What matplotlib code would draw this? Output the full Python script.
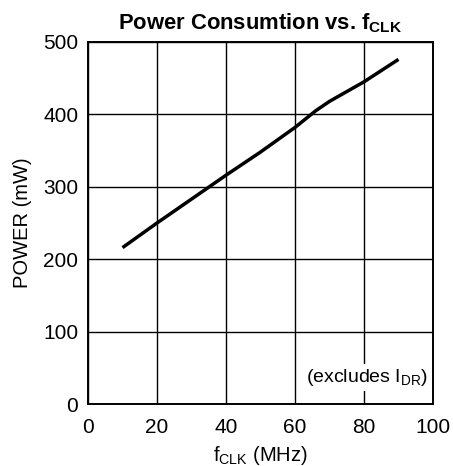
import matplotlib
matplotlib.use('Agg')
import matplotlib.pyplot as plt
from matplotlib import rcParams

rcParams['font.family'] = 'Liberation Sans'
rcParams['mathtext.fontset'] = 'custom'
rcParams['mathtext.rm'] = 'Liberation Sans'
rcParams['mathtext.bf'] = 'Liberation Sans:bold'

fclk = [10, 20, 30, 40, 50, 60, 66, 70, 80, 90]
power = [216, 250, 283, 316, 348, 382, 405, 418, 445, 476]

fig = plt.figure(figsize=[4.53, 4.66], dpi=100)
ax = fig.add_axes([88/453, 1 - 404/466, (433-88)/453, (404-42)/466])

ax.plot(fclk, power, color='black', lw=2.5, solid_capstyle='butt', zorder=3)
ax.set(xlim=[0, 100], ylim=[0, 500])
ax.set_xticks([0, 20, 40, 60, 80, 100])
ax.set_yticks([0, 100, 200, 300, 400, 500])
ax.grid(True, color='black', lw=1.0)
ax.set_axisbelow(True)
ax.tick_params(length=0, labelsize=15)
ax.tick_params(axis='y', pad=7)
ax.tick_params(axis='x', pad=10)
for s in ax.spines.values():
    s.set_linewidth(1.4)

ax.set_xlabel(r'f$_\mathregular{CLK}$ (MHz)', fontsize=14.5, labelpad=5)
ax.set_ylabel('POWER (mW)', fontsize=14.5, labelpad=8)
ax.set_title(r'Power Consumtion vs. f$_\mathbf{CLK}$', fontsize=15.8,
             fontweight='bold', pad=9)
ax.text(98.5, 22, r'(excludes I$_\mathregular{DR}$)', fontsize=14, ha='right',
        va='bottom', zorder=2,
        bbox=dict(facecolor='white', edgecolor='none', pad=2))

fig.savefig('out.png', dpi=100)
